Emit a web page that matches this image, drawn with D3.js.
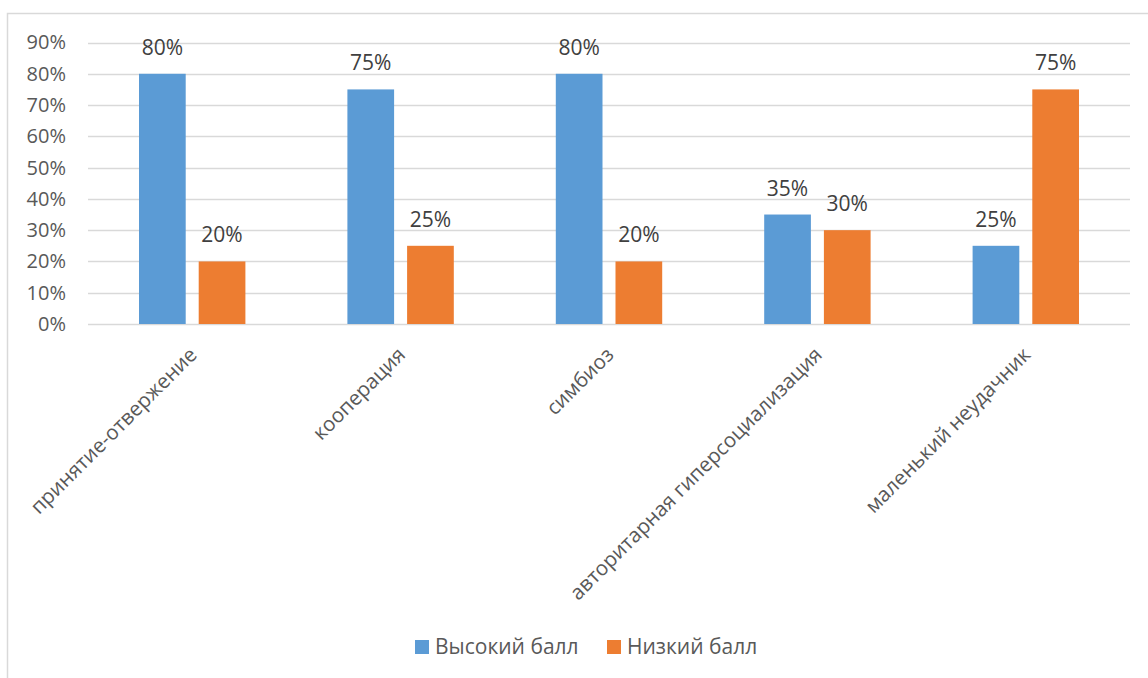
<!DOCTYPE html>
<html>
<head>
<meta charset="utf-8">
<script src="https://cdn.jsdelivr.net/npm/d3@7"></script>
<style>
  html, body { margin: 0; padding: 0; background: #fff; }
  svg { display: block; font-family: "Open Sans", "Noto Sans", sans-serif; }
</style>
</head>
<body>
<svg id="chart" width="1148" height="678"></svg>
<script>
// Parent-child relationship styles: share of high and low scores
const categories = ["принятие-отвержение", "кооперация", "симбиоз", "авторитарная гиперсоциализация", "маленький неудачник"];
const seriesNames = ["Высокий балл", "Низкий балл"];
const highScores = [80, 75, 80, 35, 25];
const lowScores = [20, 25, 20, 30, 75];
const yTicks = [0, 10, 20, 30, 40, 50, 60, 70, 80, 90];
const colors = ["#5B9BD5", "#ED7D31"];

const svg = d3.select("#chart");
const W = 1148, H = 678;

// chart area frame
svg.append("path")
  .attr("d", `M7.5,${H} V13.5 H${W}`)
  .attr("fill", "none")
  .attr("stroke", "#D9D9D9")
  .attr("stroke-width", 1.5);

const plot = { left: 88, right: 1130, top: 42.5, bottom: 324 };

const x = d3.scaleBand()
  .domain(categories)
  .range([plot.left, plot.right])
  .paddingInner(0)
  .paddingOuter(0);

const y = d3.scaleLinear()
  .domain([0, 90])
  .range([plot.bottom, plot.top]);

const barW = 46.7, barGap = 13;

// gridlines
svg.append("g")
  .selectAll("line")
  .data(yTicks)
  .join("line")
  .attr("x1", plot.left)
  .attr("x2", plot.right)
  .attr("y1", d => Math.round(y(d)) + 0.5)
  .attr("y2", d => Math.round(y(d)) + 0.5)
  .attr("stroke", "#D9D9D9")
  .attr("stroke-width", 1.5);

// y axis labels
const yAxis = d3.axisLeft(y).tickValues(yTicks).tickFormat(d => d + "%").tickSize(0).tickPadding(0);
const yg = svg.append("g").attr("transform", "translate(66,0)").call(yAxis);
yg.select(".domain").remove();
yg.selectAll("text")
  .attr("fill", "#595959")
  .style("font-size", "20px")
  .style("font-family", "'Open Sans', sans-serif");

const rows = categories.map((c, i) => ({ cat: c, values: [highScores[i], lowScores[i]] }));

const groupW = barW * 2 + barGap;
const groups = svg.append("g")
  .selectAll("g")
  .data(rows)
  .join("g")
  .attr("transform", d => `translate(${x(d.cat) + x.bandwidth() / 2 - groupW / 2},0)`);

groups.selectAll("rect")
  .data(d => d.values.map((v, k) => ({ v, k })))
  .join("rect")
  .attr("x", d => d.k * (barW + barGap))
  .attr("width", barW)
  .attr("y", d => y(d.v))
  .attr("height", d => y(0) - y(d.v))
  .attr("fill", d => colors[d.k]);

// value labels above bars
groups.selectAll("text.val")
  .data(d => d.values.map((v, k) => ({ v, k })))
  .join("text")
  .attr("class", "val")
  .attr("x", d => d.k * (barW + barGap) + barW / 2)
  .attr("y", d => y(d.v) - 19)
  .attr("text-anchor", "middle")
  .attr("fill", "#404040")
  .style("font-size", "21px")
  .text(d => d.v + "%");

// rotated category labels
svg.append("g")
  .selectAll("text")
  .data(categories)
  .join("text")
  .attr("transform", d => `translate(${x(d) + x.bandwidth() / 2 + 6},${plot.bottom + 32}) rotate(-45)`)
  .attr("text-anchor", "end")
  .attr("fill", "#595959")
  .style("font-size", "20.5px")
  .text(d => d);

// legend
const legend = svg.append("g").attr("transform", "translate(415,647)");
const legendX = [0, 192];
seriesNames.forEach((name, k) => {
  const g = legend.append("g").attr("transform", `translate(${legendX[k]},0)`);
  g.append("rect").attr("x", 0).attr("y", -7).attr("width", 14).attr("height", 14).attr("fill", colors[k]);
  g.append("text")
    .attr("x", 20)
    .attr("y", 0)
    .attr("dy", "0.35em")
    .attr("fill", "#595959")
    .style("font-size", "21px")
    .text(name);
});
</script>
</body>
</html>
